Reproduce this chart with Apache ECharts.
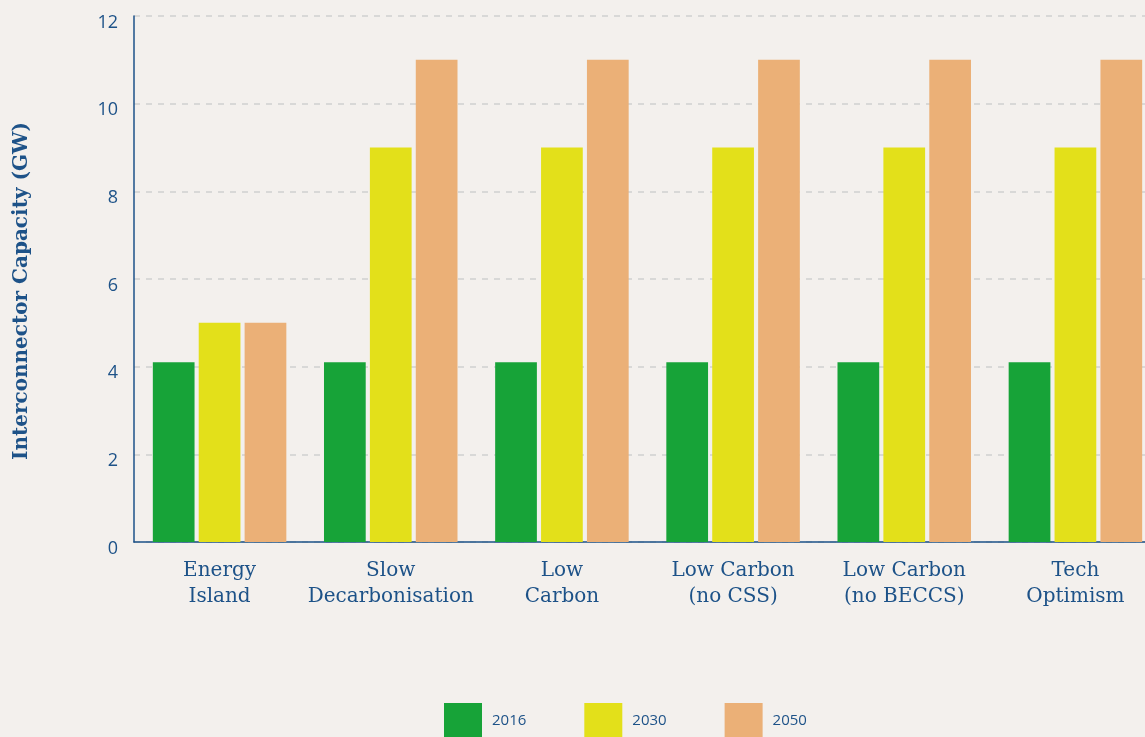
<!DOCTYPE html>
<html><head><meta charset="utf-8">
<script src="https://cdn.jsdelivr.net/npm/echarts@6/dist/echarts.min.js"></script>
<style>html,body{margin:0;padding:0;background:#F3F0ED;}#c{width:1145px;height:737px;}</style>
</head><body><div id="c"></div>
<script>
const categories = ['Energy\nIsland','Slow\nDecarbonisation','Low\nCarbon','Low Carbon\n(no CSS)','Low Carbon\n(no BECCS)','Tech\nOptimism'];
const seriesNames = ['2016','2030','2050'];
const v2016 = [4.1,4.1,4.1,4.1,4.1,4.1];
const v2030 = [5,9,9,9,9,9];
const v2050 = [5,11,11,11,11,11];
const yTicks = [0,2,4,6,8,10,12];
const colors = ['#17A338','#E3E01A','#EBB077'];
const txt = '#1d5288';
const chart = echarts.init(document.getElementById('c'));
chart.setOption({
  backgroundColor:'#F3F0ED',
  animation:false,
  color:colors,
  grid:{left:134,width:1027,top:16,bottom:195,containLabel:false,outerBoundsMode:'none'},
  legend:{top:698,left:439,itemWidth:38,itemHeight:36,itemGap:58,icon:'rect',
    textStyle:{color:txt,fontFamily:'Open Sans',fontSize:15,padding:[13,0,0,5]},data:seriesNames},
  xAxis:{type:'category',data:categories,
    axisLine:{lineStyle:{color:'#1d5288',width:1.5}},axisTick:{show:false},
    axisLabel:{color:txt,fontFamily:'DejaVu Serif',fontSize:20,lineHeight:26,margin:16,interval:0}},
  yAxis:{type:'value',min:0,max:12,interval:2,
    name:'Interconnector Capacity (GW)',nameLocation:'middle',nameGap:102,
    nameTextStyle:{color:txt,fontFamily:'DejaVu Serif',fontSize:20,fontWeight:'bold',padding:[0,24,0,0]},
    axisLine:{show:true,lineStyle:{color:'#1d5288',width:1.5}},axisTick:{show:false},
    axisLabel:{color:txt,fontFamily:'Open Sans',fontSize:18,margin:16,verticalAlign:'top',lineHeight:13,formatter:v=>yTicks.includes(v)?String(v):''},
    splitLine:{lineStyle:{color:'#cfcfcf',type:[6,6],width:1.5}}},
  series:[
    {name:seriesNames[0],type:'bar',data:v2016,barGap:'10%',barCategoryGap:'22%'},
    {name:seriesNames[1],type:'bar',data:v2030,barGap:'10%',barCategoryGap:'22%'},
    {name:seriesNames[2],type:'bar',data:v2050,barGap:'10%',barCategoryGap:'22%'}
  ]
});
</script></body></html>
